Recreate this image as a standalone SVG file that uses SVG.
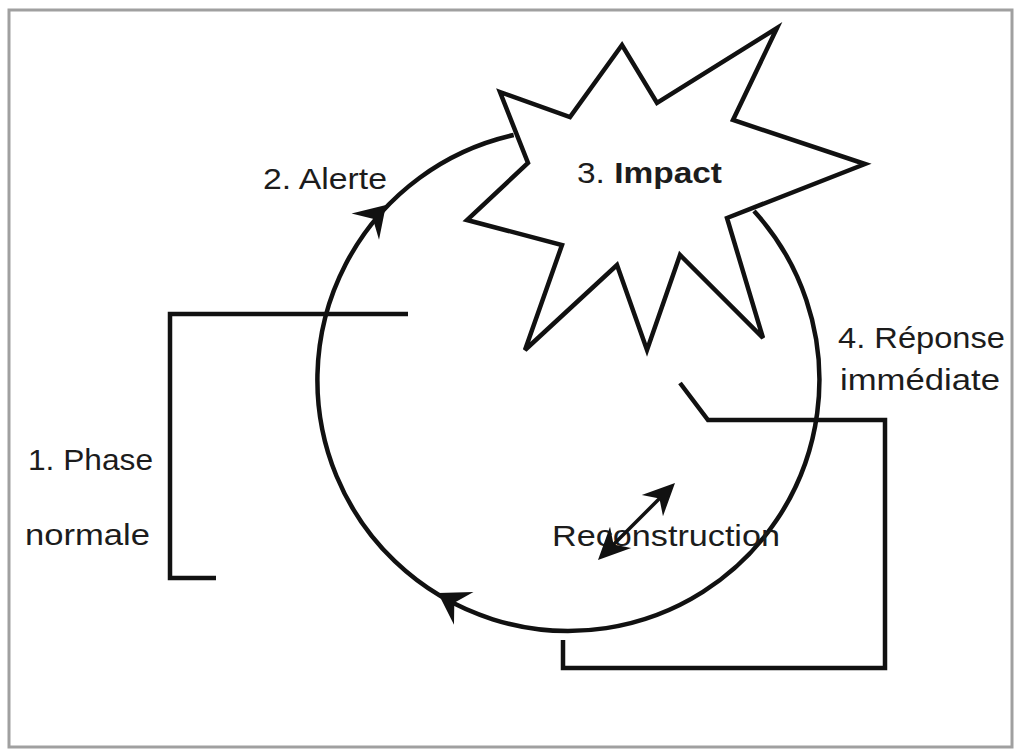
<svg xmlns="http://www.w3.org/2000/svg" xmlns:xlink="http://www.w3.org/1999/xlink" width="1018" height="753" viewBox="0 0 1018 753">
<defs>
<style>
.ln{fill:none;stroke:#111;stroke-width:4.5;stroke-linejoin:miter}
.lbl{font-family:"Liberation Sans",Arial,sans-serif;font-size:30px;fill:#1c1c1c}
.ah{fill:#111}
</style>
<path id="ah" d="M0,0 L-30,-19 L-19,0 L-30,19 Z"/>
<path id="ah2" d="M0,0 L-32,-15 L-22,0 L-32,15 Z"/>
</defs>
<rect x="0" y="0" width="1018" height="753" fill="#fff"/>
<rect x="9" y="10" width="1003" height="737" fill="none" stroke="#a0a0a0" stroke-width="3"/>
<g id="connectors">
<path class="ln" d="M754,211 A251,251 0 1 1 513.7,135"/>
<use href="#ah" class="ah" transform="translate(386,205) rotate(-46.3)"/>
<use href="#ah" class="ah" transform="translate(438,593) rotate(210.9)"/>
<path class="ln" d="M408,314 H170 V578 H216"/>
<path class="ln" d="M680,383 L708,420 H885 V668 H563 V640"/>
</g>
<g id="impact">
<polygon class="ln" style="fill:#fff" points="500,92 570,117 622,45 657,103 777,28 733,120 865,164 727,218 763,338 680,255 647,350 617,265 525,350 562,245 467,220 528,163"/>
<text class="lbl" x="577" y="183" textLength="145" lengthAdjust="spacingAndGlyphs">3. <tspan font-weight="bold">Impact</tspan></text>
</g>
<g id="phase-normale">
<text class="lbl" x="28" y="470" textLength="125" lengthAdjust="spacingAndGlyphs">1. Phase</text>
<text class="lbl" x="25" y="545" textLength="125" lengthAdjust="spacingAndGlyphs">normale</text>
</g>
<g id="alerte">
<text class="lbl" x="263" y="189" textLength="124" lengthAdjust="spacingAndGlyphs">2. Alerte</text>
</g>
<g id="reponse">
<text class="lbl" x="838" y="348" textLength="167" lengthAdjust="spacingAndGlyphs">4. Réponse</text>
<text class="lbl" x="840" y="390" textLength="160" lengthAdjust="spacingAndGlyphs">immédiate</text>
</g>
<g id="reconstruction">
<text class="lbl" x="552" y="546" textLength="228" lengthAdjust="spacingAndGlyphs">Reconstruction</text>
<path class="ln" style="stroke-width:3.5" d="M606,552 L667,491"/>
<use href="#ah2" class="ah" transform="translate(675,483) rotate(-45)"/>
<use href="#ah2" class="ah" transform="translate(598,560) rotate(135)"/>
</g>
</svg>
